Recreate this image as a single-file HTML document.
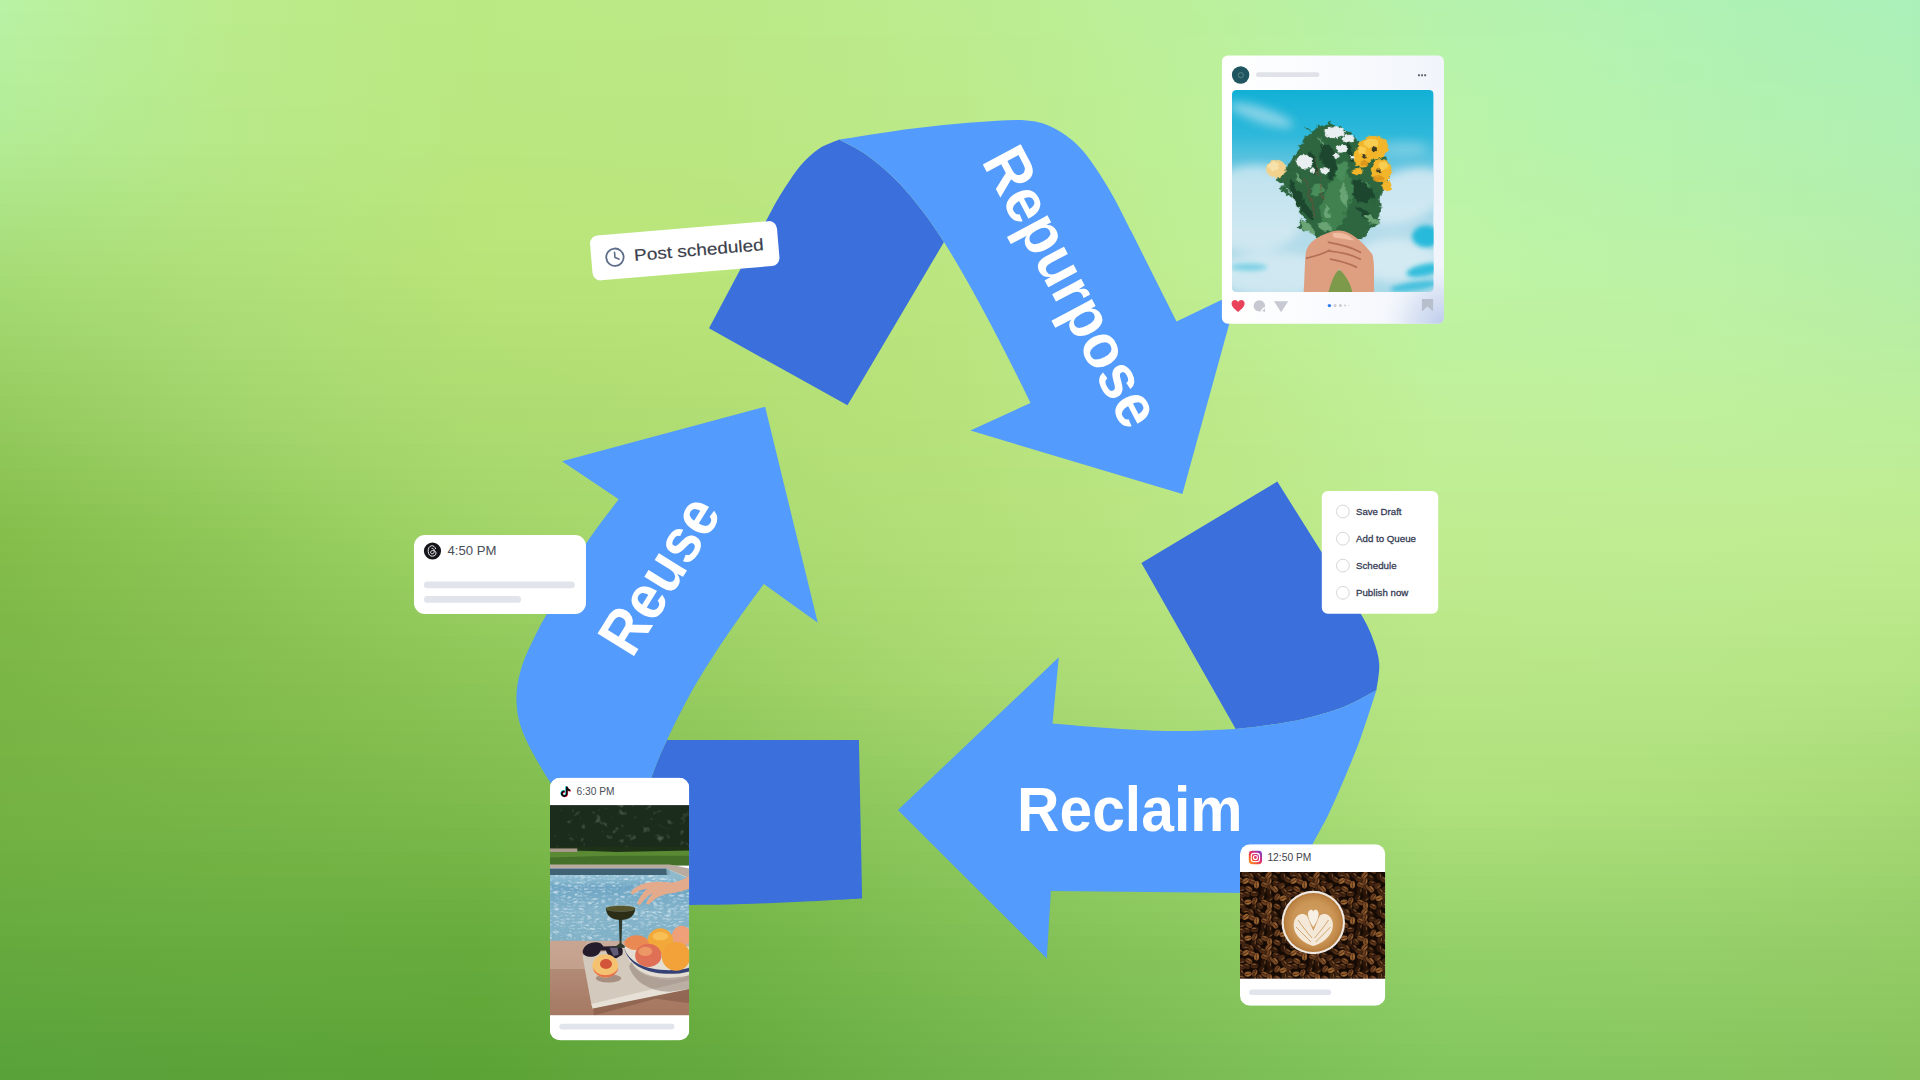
<!DOCTYPE html>
<html><head><meta charset="utf-8"><title>Reuse, Repurpose, Reclaim</title>
<style>
html,body{margin:0;padding:0;width:1920px;height:1080px;overflow:hidden;background:#a8db74;font-family:"Liberation Sans",sans-serif;}
#bg{position:absolute;left:0;top:0;width:1920px;height:1080px;overflow:hidden}
#bg i{position:absolute;left:0;width:1920px;height:12px;display:block}
svg{position:absolute;left:0;top:0;}
text{font-family:"Liberation Sans",sans-serif;}
</style></head>
<body>
<div id="bg"><i style="top:0px;background:linear-gradient(90deg,#b9f2a4 0.00%,#bbeb8b 12.50%,#bae882 25.00%,#bbe987 37.50%,#bcec90 50.00%,#bbf09c 62.50%,#b6f2ac 75.00%,#b0f2b4 87.50%,#aaf0b8 100.00%)"></i><i style="top:12px;background:linear-gradient(90deg,#b8f1a3 0.00%,#bbeb8b 12.50%,#bae882 25.00%,#bbe986 37.50%,#bcec8f 50.00%,#bbf09b 62.50%,#b7f2ab 75.00%,#b1f2b3 87.50%,#abf0b7 100.00%)"></i><i style="top:24px;background:linear-gradient(90deg,#b8f1a2 0.00%,#baeb8a 12.50%,#bae881 25.00%,#bbe986 37.50%,#bcec8f 50.00%,#bbf09b 62.50%,#b7f2ab 75.00%,#b1f2b3 87.50%,#abf0b7 100.00%)"></i><i style="top:36px;background:linear-gradient(90deg,#b7f0a0 0.00%,#baea8a 12.50%,#bae881 25.00%,#bbe885 37.50%,#bceb8e 50.00%,#bcf09b 62.50%,#b8f3ab 75.00%,#b1f2b2 87.50%,#acf0b6 100.00%)"></i><i style="top:48px;background:linear-gradient(90deg,#b7f09f 0.00%,#baea8a 12.50%,#bae881 25.00%,#bbe885 37.50%,#bceb8e 50.00%,#bcf09a 62.50%,#b8f3aa 75.00%,#b2f2b2 87.50%,#acf0b6 100.00%)"></i><i style="top:60px;background:linear-gradient(90deg,#b6ef9e 0.00%,#baea8a 12.50%,#bae881 25.00%,#bbe885 37.50%,#bceb8d 50.00%,#bcf09a 62.50%,#b8f3aa 75.00%,#b2f2b1 87.50%,#adf0b5 100.00%)"></i><i style="top:72px;background:linear-gradient(90deg,#b6ef9c 0.00%,#b9ea89 12.50%,#bae780 25.00%,#bbe884 37.50%,#bceb8d 50.00%,#bcf09a 62.50%,#b9f3aa 75.00%,#b2f2b1 87.50%,#adf0b5 100.00%)"></i><i style="top:84px;background:linear-gradient(90deg,#b5ee9b 0.00%,#b9ea89 12.50%,#bae780 25.00%,#bbe884 37.50%,#bceb8c 50.00%,#bcf099 62.50%,#b9f3a9 75.00%,#b3f2b0 87.50%,#aef0b4 100.00%)"></i><i style="top:96px;background:linear-gradient(90deg,#b4ed9a 0.00%,#b9e989 12.50%,#bae780 25.00%,#bbe783 37.50%,#bcea8b 50.00%,#bdf099 62.50%,#baf4a9 75.00%,#b3f2af 87.50%,#aff0b3 100.00%)"></i><i style="top:108px;background:linear-gradient(90deg,#b4ed98 0.00%,#b8e988 12.50%,#bae77f 25.00%,#bbe783 37.50%,#bcea8b 50.00%,#bdf099 62.50%,#baf4a9 75.00%,#b3f2af 87.50%,#aff0b3 100.00%)"></i><i style="top:120px;background:linear-gradient(90deg,#b3ec97 0.00%,#b8e988 12.50%,#bae77f 25.00%,#bbe782 37.50%,#bcea8a 50.00%,#bdf098 62.50%,#bbf4a8 75.00%,#b4f2ae 87.50%,#b0f0b2 100.00%)"></i><i style="top:132px;background:linear-gradient(90deg,#b3ec95 0.00%,#b8e988 12.50%,#bae77f 25.00%,#bbe782 37.50%,#bcea8a 50.00%,#bdf098 62.50%,#bbf4a8 75.00%,#b4f2ae 87.50%,#b0f0b2 100.00%)"></i><i style="top:144px;background:linear-gradient(90deg,#b2ea92 0.00%,#b7e886 12.50%,#bae77e 25.00%,#bbe781 37.50%,#bcea89 50.00%,#bdf097 62.50%,#bbf4a8 75.00%,#b5f2ad 87.50%,#b1f0b1 100.00%)"></i><i style="top:156px;background:linear-gradient(90deg,#b1e990 0.00%,#b6e785 12.50%,#bae67e 25.00%,#bbe781 37.50%,#bce988 50.00%,#bdf097 62.50%,#bcf4a7 75.00%,#b6f2ac 87.50%,#b1f0b0 100.00%)"></i><i style="top:168px;background:linear-gradient(90deg,#b0e78d 0.00%,#b6e684 12.50%,#bae67d 25.00%,#bbe680 37.50%,#bce987 50.00%,#beef96 62.50%,#bcf4a7 75.00%,#b6f2ac 87.50%,#b2efaf 100.00%)"></i><i style="top:180px;background:linear-gradient(90deg,#aee68a 0.00%,#b5e683 12.50%,#bae67c 25.00%,#bbe67f 37.50%,#bce886 50.00%,#beef96 62.50%,#bcf4a6 75.00%,#b7f2ab 87.50%,#b2efae 100.00%)"></i><i style="top:192px;background:linear-gradient(90deg,#ade587 0.00%,#b4e581 12.50%,#bae67c 25.00%,#bbe67f 37.50%,#bce885 50.00%,#beef95 62.50%,#bcf4a6 75.00%,#b8f2aa 87.50%,#b3efad 100.00%)"></i><i style="top:204px;background:linear-gradient(90deg,#ace384 0.00%,#b4e480 12.50%,#b9e57b 25.00%,#bae67e 37.50%,#bbe884 50.00%,#beef95 62.50%,#bdf4a6 75.00%,#b8f2aa 87.50%,#b3efac 100.00%)"></i><i style="top:216px;background:linear-gradient(90deg,#abe281 0.00%,#b3e37f 12.50%,#b9e57a 25.00%,#bae67d 37.50%,#bbe784 50.00%,#beef94 62.50%,#bdf4a5 75.00%,#b9f2a9 87.50%,#b4efac 100.00%)"></i><i style="top:228px;background:linear-gradient(90deg,#aae07f 0.00%,#b2e27e 12.50%,#b9e57a 25.00%,#bae67d 37.50%,#bbe783 50.00%,#beef94 62.50%,#bdf4a5 75.00%,#baf2a8 87.50%,#b4efab 100.00%)"></i><i style="top:240px;background:linear-gradient(90deg,#a9df7c 0.00%,#b1e27c 12.50%,#b9e579 25.00%,#bae57c 37.50%,#bbe782 50.00%,#bfee93 62.50%,#bdf4a5 75.00%,#bbf2a7 87.50%,#b5eeaa 100.00%)"></i><i style="top:252px;background:linear-gradient(90deg,#a8dd79 0.00%,#b1e17b 12.50%,#b9e479 25.00%,#bae57c 37.50%,#bbe681 50.00%,#bfee93 62.50%,#bef4a4 75.00%,#bbf2a7 87.50%,#b5eea9 100.00%)"></i><i style="top:264px;background:linear-gradient(90deg,#a7dc76 0.00%,#b0e07a 12.50%,#b9e478 25.00%,#bae57b 37.50%,#bbe680 50.00%,#bfee92 62.50%,#bef4a4 75.00%,#bcf2a6 87.50%,#b6eea8 100.00%)"></i><i style="top:276px;background:linear-gradient(90deg,#a5db74 0.00%,#afdf79 12.50%,#b8e377 25.00%,#b9e47a 37.50%,#bbe680 50.00%,#bfed91 62.50%,#bef4a3 75.00%,#bcf2a5 87.50%,#b7eea7 100.00%)"></i><i style="top:288px;background:linear-gradient(90deg,#a4d972 0.00%,#aede78 12.50%,#b7e377 25.00%,#b9e47a 37.50%,#bae57f 50.00%,#bfed90 62.50%,#bef3a2 75.00%,#bdf2a4 87.50%,#b7eea6 100.00%)"></i><i style="top:300px;background:linear-gradient(90deg,#a2d870 0.00%,#addd77 12.50%,#b6e276 25.00%,#b8e379 37.50%,#bae57f 50.00%,#beec8f 62.50%,#bff3a1 75.00%,#bdf1a3 87.50%,#b8eea5 100.00%)"></i><i style="top:312px;background:linear-gradient(90deg,#a1d66e 0.00%,#acdc76 12.50%,#b5e176 25.00%,#b7e379 37.50%,#bae57f 50.00%,#beec8e 62.50%,#bff3a0 75.00%,#bdf1a2 87.50%,#b8eea4 100.00%)"></i><i style="top:324px;background:linear-gradient(90deg,#9fd56c 0.00%,#abdc75 12.50%,#b4e075 25.00%,#b6e278 37.50%,#bae57e 50.00%,#beeb8e 62.50%,#bff2a0 75.00%,#bdf1a2 87.50%,#b9eea3 100.00%)"></i><i style="top:336px;background:linear-gradient(90deg,#9ed36a 0.00%,#aadb74 12.50%,#b3e075 25.00%,#b6e177 37.50%,#b9e47e 50.00%,#beeb8d 62.50%,#bff29f 75.00%,#bef1a1 87.50%,#b9eea2 100.00%)"></i><i style="top:348px;background:linear-gradient(90deg,#9cd268 0.00%,#a9da73 12.50%,#b2df74 25.00%,#b5e177 37.50%,#b9e47e 50.00%,#beea8c 62.50%,#bff29e 75.00%,#bef1a0 87.50%,#baeea1 100.00%)"></i><i style="top:360px;background:linear-gradient(90deg,#9bd166 0.00%,#a7d971 12.50%,#b1de74 25.00%,#b4e076 37.50%,#b9e47d 50.00%,#beea8b 62.50%,#bff19d 75.00%,#bef19f 87.50%,#baee9f 100.00%)"></i><i style="top:372px;background:linear-gradient(90deg,#99cf64 0.00%,#a6d870 12.50%,#b0de73 25.00%,#b4df75 37.50%,#b9e47d 50.00%,#bde98a 62.50%,#c0f19c 75.00%,#bef09e 87.50%,#bbee9e 100.00%)"></i><i style="top:384px;background:linear-gradient(90deg,#98ce62 0.00%,#a5d76f 12.50%,#afdd73 25.00%,#b3df75 37.50%,#b8e37c 50.00%,#bde989 62.50%,#c0f09b 75.00%,#bff09d 87.50%,#bbee9d 100.00%)"></i><i style="top:396px;background:linear-gradient(90deg,#96cc60 0.00%,#a4d66e 12.50%,#aedc72 25.00%,#b2de74 37.50%,#b8e37c 50.00%,#bde888 62.50%,#c0f09a 75.00%,#bff09c 87.50%,#bcee9c 100.00%)"></i><i style="top:408px;background:linear-gradient(90deg,#95cb5f 0.00%,#a3d56d 12.50%,#addb71 25.00%,#b1de74 37.50%,#b8e37c 50.00%,#bde888 62.50%,#c0f099 75.00%,#bff09b 87.50%,#bcee9b 100.00%)"></i><i style="top:420px;background:linear-gradient(90deg,#93ca5d 0.00%,#a1d46b 12.50%,#acdb70 25.00%,#b1de73 37.50%,#b7e27b 50.00%,#bde887 62.50%,#c0ef98 75.00%,#bfef9a 87.50%,#bcee9a 100.00%)"></i><i style="top:432px;background:linear-gradient(90deg,#92c85b 0.00%,#9fd369 12.50%,#abda70 25.00%,#b0dd73 37.50%,#b7e27b 50.00%,#bce887 62.50%,#c0ef98 75.00%,#bfef9a 87.50%,#bdee99 100.00%)"></i><i style="top:444px;background:linear-gradient(90deg,#90c759 0.00%,#9dd167 12.50%,#a9d96f 25.00%,#afdd73 37.50%,#b6e27b 50.00%,#bce787 62.50%,#c0ef97 75.00%,#bfef99 87.50%,#bded98 100.00%)"></i><i style="top:456px;background:linear-gradient(90deg,#8ec657 0.00%,#9cd065 12.50%,#a8d96e 25.00%,#afdd72 37.50%,#b6e17a 50.00%,#bce786 62.50%,#c0ee96 75.00%,#bfee98 87.50%,#bded97 100.00%)"></i><i style="top:468px;background:linear-gradient(90deg,#8dc455 0.00%,#9acf63 12.50%,#a7d86d 25.00%,#aedc72 37.50%,#b5e17a 50.00%,#bbe786 62.50%,#c0ee95 75.00%,#c0ee97 87.50%,#beed96 100.00%)"></i><i style="top:480px;background:linear-gradient(90deg,#8bc353 0.00%,#98ce61 12.50%,#a6d76c 25.00%,#addc72 37.50%,#b5e17a 50.00%,#bbe786 62.50%,#c0ee94 75.00%,#c0ee96 87.50%,#beed95 100.00%)"></i><i style="top:492px;background:linear-gradient(90deg,#8ac251 0.00%,#96cc5f 12.50%,#a4d66b 25.00%,#acdc71 37.50%,#b5e079 50.00%,#bbe785 62.50%,#c0ed93 75.00%,#c0ed95 87.50%,#beed94 100.00%)"></i><i style="top:504px;background:linear-gradient(90deg,#88c04f 0.00%,#94cb5d 12.50%,#a3d66a 25.00%,#acdc71 37.50%,#b4e079 50.00%,#bbe685 62.50%,#c0ed92 75.00%,#c0ed94 87.50%,#beec93 100.00%)"></i><i style="top:516px;background:linear-gradient(90deg,#86bf4d 0.00%,#93ca5b 12.50%,#a2d569 25.00%,#abdb71 37.50%,#b4e079 50.00%,#bae685 62.50%,#c0ed91 75.00%,#c0ed93 87.50%,#bfec92 100.00%)"></i><i style="top:528px;background:linear-gradient(90deg,#85be4b 0.00%,#91c959 12.50%,#a1d468 25.00%,#aadb70 37.50%,#b3df78 50.00%,#bae684 62.50%,#c0ec90 75.00%,#c0ec92 87.50%,#bfec91 100.00%)"></i><i style="top:540px;background:linear-gradient(90deg,#84bd4a 0.00%,#8fc858 12.50%,#9fd367 25.00%,#a9da6f 37.50%,#b3df78 50.00%,#bae684 62.50%,#c0ec90 75.00%,#c0ec92 87.50%,#bfec8f 100.00%)"></i><i style="top:552px;background:linear-gradient(90deg,#83bc49 0.00%,#8ec757 12.50%,#9ed266 25.00%,#a8d96e 37.50%,#b2de77 50.00%,#b9e583 62.50%,#bfeb8f 75.00%,#bfeb91 87.50%,#beeb8e 100.00%)"></i><i style="top:564px;background:linear-gradient(90deg,#82bb49 0.00%,#8dc656 12.50%,#9cd164 25.00%,#a6d86d 37.50%,#b1dd76 50.00%,#b8e482 62.50%,#beeb8e 75.00%,#beeb90 87.50%,#bdea8d 100.00%)"></i><i style="top:576px;background:linear-gradient(90deg,#81bb49 0.00%,#8cc555 12.50%,#9ad063 25.00%,#a5d76c 37.50%,#b0dd76 50.00%,#b7e481 62.50%,#beea8d 75.00%,#bdea8f 87.50%,#bcea8c 100.00%)"></i><i style="top:588px;background:linear-gradient(90deg,#80ba48 0.00%,#8bc454 12.50%,#99ce62 25.00%,#a4d66a 37.50%,#afdc75 50.00%,#b6e380 62.50%,#bdea8c 75.00%,#bcea8e 87.50%,#bbe98b 100.00%)"></i><i style="top:600px;background:linear-gradient(90deg,#7fba48 0.00%,#8ac353 12.50%,#97cd60 25.00%,#a2d569 37.50%,#aedc74 50.00%,#b5e37f 62.50%,#bce98b 75.00%,#bce98d 87.50%,#bae88a 100.00%)"></i><i style="top:612px;background:linear-gradient(90deg,#7eb948 0.00%,#89c252 12.50%,#96cc5f 25.00%,#a1d368 37.50%,#addb73 50.00%,#b4e27e 62.50%,#bbe98a 75.00%,#bbe98c 87.50%,#b9e789 100.00%)"></i><i style="top:624px;background:linear-gradient(90deg,#7db847 0.00%,#88c151 12.50%,#94cb5d 25.00%,#9fd267 37.50%,#acda73 50.00%,#b3e17d 62.50%,#bbe889 75.00%,#bae88b 87.50%,#b8e788 100.00%)"></i><i style="top:636px;background:linear-gradient(90deg,#7cb847 0.00%,#87c050 12.50%,#92c95c 25.00%,#9ed165 37.50%,#abda72 50.00%,#b2e17c 62.50%,#bae788 75.00%,#b9e78a 87.50%,#b7e687 100.00%)"></i><i style="top:648px;background:linear-gradient(90deg,#7cb747 0.00%,#86c050 12.50%,#91c85a 25.00%,#9cd064 37.50%,#aad971 50.00%,#b2e07c 62.50%,#b9e788 75.00%,#b8e789 87.50%,#b6e586 100.00%)"></i><i style="top:660px;background:linear-gradient(90deg,#7bb646 0.00%,#85bf4f 12.50%,#8fc759 25.00%,#9bcf63 37.50%,#a9d871 50.00%,#b1df7b 62.50%,#b9e687 75.00%,#b8e688 87.50%,#b5e585 100.00%)"></i><i style="top:672px;background:linear-gradient(90deg,#7ab646 0.00%,#84be4e 12.50%,#8ec658 25.00%,#9ace62 37.50%,#a8d870 50.00%,#b0df7a 62.50%,#b8e686 75.00%,#b7e687 87.50%,#b4e484 100.00%)"></i><i style="top:684px;background:linear-gradient(90deg,#79b646 0.00%,#83bd4d 12.50%,#8cc557 25.00%,#98cd60 37.50%,#a6d76e 50.00%,#aede79 62.50%,#b7e585 75.00%,#b6e586 87.50%,#b2e382 100.00%)"></i><i style="top:696px;background:linear-gradient(90deg,#79b545 0.00%,#82bc4d 12.50%,#8bc456 25.00%,#96cc5f 37.50%,#a4d56d 50.00%,#addd78 62.50%,#b6e584 75.00%,#b5e484 87.50%,#b1e281 100.00%)"></i><i style="top:708px;background:linear-gradient(90deg,#78b545 0.00%,#81bc4c 12.50%,#89c355 25.00%,#94cb5e 37.50%,#a2d46b 50.00%,#abdc77 62.50%,#b5e483 75.00%,#b4e483 87.50%,#b0e17f 100.00%)"></i><i style="top:720px;background:linear-gradient(90deg,#78b445 0.00%,#7fbb4b 12.50%,#88c153 25.00%,#92c95d 37.50%,#a0d36a 50.00%,#aadc75 62.50%,#b4e482 75.00%,#b3e382 87.50%,#afdf7e 100.00%)"></i><i style="top:732px;background:linear-gradient(90deg,#77b445 0.00%,#7eba4b 12.50%,#86c052 25.00%,#91c85b 37.50%,#9ed269 50.00%,#a9db74 62.50%,#b3e381 75.00%,#b2e281 87.50%,#adde7d 100.00%)"></i><i style="top:744px;background:linear-gradient(90deg,#77b444 0.00%,#7dba4a 12.50%,#85bf51 25.00%,#8fc75a 37.50%,#9cd167 50.00%,#a7da73 62.50%,#b2e380 75.00%,#b1e280 87.50%,#acdd7b 100.00%)"></i><i style="top:756px;background:linear-gradient(90deg,#76b344 0.00%,#7cb949 12.50%,#83be50 25.00%,#8dc659 37.50%,#9ad066 50.00%,#a6d972 62.50%,#b2e280 75.00%,#b0e17f 87.50%,#abdc7a 100.00%)"></i><i style="top:768px;background:linear-gradient(90deg,#76b344 0.00%,#7bb849 12.50%,#82bd4f 25.00%,#8bc558 37.50%,#98ce64 50.00%,#a4d871 62.50%,#b1e27f 75.00%,#afe07d 87.50%,#aadb78 100.00%)"></i><i style="top:780px;background:linear-gradient(90deg,#75b344 0.00%,#7ab748 12.50%,#80bc4e 25.00%,#8ac456 37.50%,#96cd63 50.00%,#a3d870 62.50%,#b0e17e 75.00%,#aedf7c 87.50%,#a8da77 100.00%)"></i><i style="top:792px;background:linear-gradient(90deg,#75b243 0.00%,#79b748 12.50%,#7fbb4d 25.00%,#88c355 37.50%,#94cc61 50.00%,#a1d76f 62.50%,#afe17d 75.00%,#addf7b 87.50%,#a7d975 100.00%)"></i><i style="top:804px;background:linear-gradient(90deg,#74b243 0.00%,#78b647 12.50%,#7dba4c 25.00%,#86c254 37.50%,#92cb60 50.00%,#a0d66e 62.50%,#aee07c 75.00%,#acde7a 87.50%,#a6d874 100.00%)"></i><i style="top:816px;background:linear-gradient(90deg,#73b143 0.00%,#77b546 12.50%,#7bb94b 25.00%,#84c153 37.50%,#90ca5f 50.00%,#9ed56c 62.50%,#acdf7a 75.00%,#aadd79 87.50%,#a4d773 100.00%)"></i><i style="top:828px;background:linear-gradient(90deg,#72b142 0.00%,#75b446 12.50%,#79b749 25.00%,#82c052 37.50%,#8fc95e 50.00%,#9cd36b 62.50%,#a9dd78 75.00%,#a8dc77 87.50%,#a3d672 100.00%)"></i><i style="top:840px;background:linear-gradient(90deg,#70b042 0.00%,#74b345 12.50%,#77b648 25.00%,#81be50 37.50%,#8dc85c 50.00%,#9ad269 62.50%,#a7dc77 75.00%,#a6da76 87.50%,#a1d570 100.00%)"></i><i style="top:852px;background:linear-gradient(90deg,#6faf41 0.00%,#72b244 12.50%,#75b546 25.00%,#7fbd4f 37.50%,#8bc65b 50.00%,#97d068 62.50%,#a5da75 75.00%,#a4d974 87.50%,#a0d46f 100.00%)"></i><i style="top:864px;background:linear-gradient(90deg,#6eae41 0.00%,#71b243 12.50%,#73b345 25.00%,#7dbc4e 37.50%,#8ac55a 50.00%,#95cf66 62.50%,#a2d973 75.00%,#a2d873 87.50%,#9ed36e 100.00%)"></i><i style="top:876px;background:linear-gradient(90deg,#6dae40 0.00%,#6fb143 12.50%,#71b243 25.00%,#7bbb4d 37.50%,#88c459 50.00%,#93cd64 62.50%,#a0d771 75.00%,#a0d771 87.50%,#9cd26d 100.00%)"></i><i style="top:888px;background:linear-gradient(90deg,#6bad40 0.00%,#6eb042 12.50%,#6fb142 25.00%,#7ab94b 37.50%,#86c357 50.00%,#91cc63 62.50%,#9ed670 75.00%,#9ed570 87.50%,#9bd16b 100.00%)"></i><i style="top:900px;background:linear-gradient(90deg,#6aac3f 0.00%,#6daf41 12.50%,#6daf41 25.00%,#78b84a 37.50%,#84c256 50.00%,#8fcb61 62.50%,#9cd56e 75.00%,#9cd46f 87.50%,#99cf6a 100.00%)"></i><i style="top:912px;background:linear-gradient(90deg,#69ac3f 0.00%,#6bae41 12.50%,#6bae3f 25.00%,#76b749 37.50%,#83c155 50.00%,#8dc960 62.50%,#99d36c 75.00%,#9ad36d 87.50%,#98ce69 100.00%)"></i><i style="top:924px;background:linear-gradient(90deg,#68ab3f 0.00%,#6aad40 12.50%,#69ad3e 25.00%,#74b648 37.50%,#81bf54 50.00%,#8bc85e 62.50%,#97d26a 75.00%,#98d26c 87.50%,#96cd68 100.00%)"></i><i style="top:936px;background:linear-gradient(90deg,#66aa3e 0.00%,#68ac3f 12.50%,#67ab3c 25.00%,#72b446 37.50%,#7fbe52 50.00%,#89c65c 62.50%,#95d068 75.00%,#96d06a 87.50%,#94cc66 100.00%)"></i><i style="top:948px;background:linear-gradient(90deg,#65a93e 0.00%,#67ab3f 12.50%,#66aa3c 25.00%,#71b345 37.50%,#7ebd51 50.00%,#87c55b 62.50%,#93cf67 75.00%,#95cf69 87.50%,#93cb65 100.00%)"></i><i style="top:960px;background:linear-gradient(90deg,#64a93d 0.00%,#66aa3e 12.50%,#65aa3b 25.00%,#70b245 37.50%,#7dbc51 50.00%,#86c45b 62.50%,#91ce66 75.00%,#93ce68 87.50%,#92ca64 100.00%)"></i><i style="top:972px;background:linear-gradient(90deg,#63a83d 0.00%,#65aa3d 12.50%,#64a93b 25.00%,#6eb144 37.50%,#7bbb50 50.00%,#85c45a 62.50%,#90ce66 75.00%,#92cd67 87.50%,#91ca63 100.00%)"></i><i style="top:984px;background:linear-gradient(90deg,#61a73d 0.00%,#63a93d 12.50%,#63a83a 25.00%,#6db043 37.50%,#7aba4f 50.00%,#83c359 62.50%,#8ecd65 75.00%,#90cc65 87.50%,#8fc962 100.00%)"></i><i style="top:996px;background:linear-gradient(90deg,#60a73c 0.00%,#62a83c 12.50%,#62a839 25.00%,#6caf43 37.50%,#78b94f 50.00%,#82c259 62.50%,#8ccc64 75.00%,#8fcb64 87.50%,#8ec861 100.00%)"></i><i style="top:1008px;background:linear-gradient(90deg,#5fa63c 0.00%,#61a73b 12.50%,#61a739 25.00%,#6aae42 37.50%,#77b84e 50.00%,#81c158 62.50%,#8bcb63 75.00%,#8dca63 87.50%,#8dc760 100.00%)"></i><i style="top:1020px;background:linear-gradient(90deg,#5ea53c 0.00%,#60a63b 12.50%,#60a638 25.00%,#69ad41 37.50%,#75b74d 50.00%,#80c057 62.50%,#89ca62 75.00%,#8cc962 87.50%,#8cc65f 100.00%)"></i><i style="top:1032px;background:linear-gradient(90deg,#5ca43b 0.00%,#5ea53a 12.50%,#5fa538 25.00%,#68ac40 37.50%,#74b64c 50.00%,#7ebf56 62.50%,#88c961 75.00%,#8ac860 87.50%,#8ac55e 100.00%)"></i><i style="top:1044px;background:linear-gradient(90deg,#5ba43b 0.00%,#5da43a 12.50%,#5ea537 25.00%,#66ab40 37.50%,#73b54c 50.00%,#7dbe56 62.50%,#86c860 75.00%,#89c75f 87.50%,#89c45d 100.00%)"></i><i style="top:1056px;background:linear-gradient(90deg,#5aa33b 0.00%,#5ca339 12.50%,#5da437 25.00%,#65aa3f 37.50%,#71b44b 50.00%,#7cbd55 62.50%,#84c75f 75.00%,#87c65e 87.50%,#88c35c 100.00%)"></i><i style="top:1068px;background:linear-gradient(90deg,#59a23a 0.00%,#5ba238 12.50%,#5ca336 25.00%,#64a93e 37.50%,#70b34a 50.00%,#7bbc54 62.50%,#83c65e 75.00%,#86c55d 87.50%,#87c25b 100.00%)"></i></div>
<svg width="1920" height="1080" viewBox="0 0 1920 1080">
<!-- ARROWS -->
<g id="arrows">
<path fill="#3a6fdc" d="M839.3,139.6 C835.8,141.2 825.0,144.6 818.6,148.9 C812.2,153.2 806.2,159.0 800.8,165.2 C795.4,171.4 790.3,179.5 786.0,186.0 C781.7,192.5 776.8,201.0 775.0,204.0 L709,328.3 L847.5,405.3 L944,242 C940.7,237.2 931.7,223.0 924.0,213.0 C916.3,203.0 907.3,191.5 898.0,182.0 C888.7,172.5 877.8,163.1 868.0,156.0 C858.2,148.9 844.1,142.3 839.3,139.6 Z"/>
<path fill="#539bfc" d="M839.3,139.6 C850.9,137.8 886.2,131.8 908.9,128.9 C931.6,126.0 956.0,123.6 975.6,122.2 C995.2,120.8 1013.4,119.3 1026.7,120.4 C1040.0,121.5 1046.3,124.0 1055.6,128.9 C1064.8,133.8 1073.3,140.0 1082.2,150.0 C1091.1,160.0 1100.8,175.4 1108.9,188.9 C1117.1,202.4 1127.4,224.1 1131.1,231.1 L1176.5,321.5 L1238,292 L1182.4,493.9 L970.4,430.6 L1030.5,402.9 Q979.5,298.5 944,242 C940.7,237.2 931.7,223.0 924.0,213.0 C916.3,203.0 907.3,191.5 898.0,182.0 C888.7,172.5 877.8,163.1 868.0,156.0 C858.2,148.9 844.1,142.3 839.3,139.6 Z"/>
<path fill="#3a6fdc" d="M1277.3,481.6 L1141.4,563.1 L1235.7,729 C1240.2,728.5 1251.7,727.5 1263.0,725.8 C1274.3,724.1 1290.2,722.1 1303.8,718.9 C1317.4,715.7 1332.5,711.4 1344.6,706.6 C1356.7,701.8 1371.1,693.0 1376.4,690.3 C1376.9,685.9 1379.8,672.3 1379.2,663.8 C1378.7,655.3 1376.1,647.7 1373.1,639.4 C1370.0,631.1 1368.1,626.4 1360.9,614.1 C1353.7,601.8 1335.2,573.6 1330.0,565.5 Z"/>
<path fill="#539bfc" d="M897.9,810 L1058.8,657.3 L1052.5,723.4 C1060.4,724.1 1085.3,726.3 1100.0,727.4 C1114.7,728.5 1127.2,729.3 1140.8,729.9 C1154.4,730.5 1165.7,731.2 1181.5,731.1 C1197.3,731.0 1226.7,729.4 1235.7,729.0 C1240.2,728.5 1251.7,727.5 1263.0,725.8 C1274.3,724.1 1290.2,722.1 1303.8,718.9 C1317.4,715.7 1332.5,711.4 1344.6,706.6 C1356.7,701.8 1371.1,693.0 1376.4,690.3 C1373.8,698.1 1366.2,722.6 1360.9,737.2 C1355.6,751.8 1350.0,765.1 1344.6,778.0 C1339.2,790.9 1333.7,803.5 1328.3,814.7 C1322.9,825.9 1318.7,832.1 1312.0,845.2 C1305.3,858.3 1292.0,885.5 1288.0,893.5 L1050.9,890.9 L1046.8,958.5 Z"/>
<path fill="#3a6fdc" d="M667.1,740 L858.9,740 L862.1,898.5 C852.6,899.0 824.9,900.6 805.0,901.5 C785.1,902.4 761.7,903.5 742.5,904.1 C723.3,904.7 707.0,904.9 689.9,905.1 C672.8,905.3 648.3,905.4 640.0,905.5 L600,905 L640,812 C642.0,805.9 648.9,785.0 652.2,775.6 C655.5,766.2 657.5,761.5 660.0,755.6 C662.5,749.7 665.9,742.6 667.1,740.0 Z"/>
<path fill="#539bfc" d="M765.1,406.8 L817.8,622.7 L763.8,584 C759.8,589.5 747.7,605.9 740.0,616.7 C732.3,627.5 725.2,637.6 717.8,648.9 C710.4,660.2 702.3,672.9 695.6,684.4 C688.9,695.9 682.5,708.5 677.8,717.8 C673.0,727.1 670.1,733.7 667.1,740.0 C664.1,746.3 662.5,749.7 660.0,755.6 C657.5,761.5 655.5,766.2 652.2,775.6 C648.9,785.0 642.0,805.9 640.0,812.0 L578,818 C573.4,812.1 559.4,796.4 550.4,782.6 C541.4,768.8 529.6,748.4 524.0,735.0 C518.4,721.6 517.0,712.9 516.5,702.0 C516.0,691.1 517.5,681.2 520.8,669.9 C524.0,658.6 529.4,647.3 536.0,634.0 C542.6,620.7 552.2,605.0 560.5,590.0 C568.8,575.0 576.3,558.9 586.0,543.8 C595.7,528.7 613.2,506.7 618.7,499.3 L562,461.2 Z"/>
</g>
<!-- ARROW LABELS -->
<g fill="#ffffff" font-weight="bold" font-size="62.3">
 <text transform="translate(981.1,160.9) rotate(62)" textLength="307.5" lengthAdjust="spacingAndGlyphs">Repurpose</text>
 <text transform="translate(632,659.3) rotate(-58.2)" textLength="172" lengthAdjust="spacingAndGlyphs">Reuse</text>
 <text x="1017" y="830.9" textLength="225.5" lengthAdjust="spacingAndGlyphs">Reclaim</text>
</g>
<!-- POST SCHEDULED PILL -->
<g transform="translate(684.7,250.15) rotate(-4.8)">
 <rect x="-93.8" y="-21.9" width="187.6" height="45" rx="8" fill="#ffffff"/>
 <circle cx="-70.1" cy="1.2" r="8.7" fill="none" stroke="#5d6d88" stroke-width="1.8"/>
 <path d="M-70.1,-3.8 V1.5 L-66.3,3.4" fill="none" stroke="#5d6d88" stroke-width="1.6" stroke-linecap="round" stroke-linejoin="round"/>
 <text x="-50.9" y="6.6" font-size="16.6" fill="#3b404b" stroke="#3b404b" stroke-width="0.18" textLength="130" lengthAdjust="spacingAndGlyphs">Post scheduled</text>
</g>
<!-- THREADS CARD -->
<g>
 <rect x="414" y="535" width="172" height="79" rx="11" fill="#ffffff"/>
 <circle cx="432.5" cy="551" r="8.6" fill="#15151b"/>
 <path d="M435.6,548.6 C434.8,546.4 433.2,545.6 431.6,545.8 C429.2,546.2 428,548.6 428.2,551.4 C428.4,554.4 430,556.4 432.6,556.2 C434.8,556 436.2,554.6 436,552.8 C435.8,551 434,550.4 432.4,550.6 C431,550.8 430.4,551.8 430.6,552.6 C430.8,553.6 432,554 433,553.6 C434.2,553.2 434.4,551.8 434.2,550.4 C434,549 433.2,548.4 432,548.4" fill="none" stroke="#ffffff" stroke-width="0.9" stroke-linecap="round"/>
 <text x="447.5" y="555.4" font-size="12.8" fill="#4a4e58" textLength="49" lengthAdjust="spacingAndGlyphs">4:50 PM</text>
 <rect x="424" y="581.6" width="150.8" height="6.6" rx="3.3" fill="#e1e4ea"/>
 <rect x="424" y="596" width="97" height="6.8" rx="3.4" fill="#e1e4ea"/>
</g>
<!-- TIKTOK CARD (pool) -->
<defs>
 <clipPath id="ttclip"><rect x="550" y="777.7" width="139.2" height="262.6" rx="10"/></clipPath>
 <clipPath id="ttphoto"><rect x="43" y="40" width="602" height="913"/></clipPath>
 <linearGradient id="water" x1="0" y1="0" x2="0" y2="1"><stop offset="0" stop-color="#a9ccd9"/><stop offset="0.12" stop-color="#8dbdd2"/><stop offset="0.25" stop-color="#6fa6c4"/><stop offset="0.6" stop-color="#86b5cb"/><stop offset="1" stop-color="#7fb0c6"/></linearGradient>
 <linearGradient id="deck" x1="0" y1="0" x2="0" y2="1"><stop offset="0" stop-color="#c9ad9c"/><stop offset="0.4" stop-color="#bb9986"/><stop offset="1" stop-color="#a87d68"/></linearGradient>
 <filter id="ripple" x="0" y="0" width="100%" height="100%"><feTurbulence type="turbulence" baseFrequency="0.035 0.07" numOctaves="2" seed="4" result="t"/><feColorMatrix in="t" type="matrix" values="0 0 0 0 0.9  0 0 0 0 0.96  0 0 0 0 1  1.6 1.6 0 0 -0.75"/></filter>
 <filter id="leafn" x="0" y="0" width="100%" height="100%"><feTurbulence type="fractalNoise" baseFrequency="0.03" numOctaves="2" seed="7" result="t"/><feColorMatrix in="t" type="matrix" values="0 0 0 0 0.55  0 0 0 0 0.66  0 0 0 0 0.5  2.4 0 0 0 -1.45"/></filter>
</defs>
<g clip-path="url(#ttclip)">
 <rect x="550" y="777.7" width="139.2" height="262.6" fill="#ffffff"/>
 <g transform="translate(540,795) scale(0.23148)" clip-path="url(#ttphoto)">
  <!-- trees -->
  <rect x="43" y="40" width="602" height="205" fill="#1b2c1d"/>
  <rect x="43" y="45" width="602" height="190" filter="url(#leafn)" opacity="0.5"/>
  <!-- grass -->
  <rect x="43" y="225" width="602" height="80" fill="#44702a"/>
  <path d="M43,245 L645,235 L645,262 L300,262 L43,270 Z" fill="#5b8a34"/>
  <path d="M43,225 H645 V240 L330,246 L160,240 L43,236 Z" fill="#1e3218"/>
  <rect x="43" y="231" width="118" height="15" fill="#a89a8c"/>
  <!-- pool edge -->
  <path d="M43,300 H560 L645,318 V360 L545,318 H43 Z" fill="#b9ab9e"/>
  <path d="M43,318 H545 L645,362 V640 H43 Z" fill="url(#water)"/>
  <path d="M43,318 H545 L560,326 V346 H43 Z" fill="#3f6375"/>
  <rect x="43" y="346" width="602" height="294" filter="url(#ripple)" opacity="0.55"/>
  <path d="M545,318 L645,362 V395 L548,346 Z" fill="#8db6c8" opacity="0.8"/>
  <!-- deck -->
  <rect x="43" y="630" width="602" height="323" fill="url(#deck)"/>
  <path d="M43,752 L200,752 L225,920 L230,953 H43 Z" fill="#a3745d" opacity="0.4"/>
  <path d="M43,630 H200 L192,700 L196,752 H43 Z" fill="#c6a28f" opacity="0.7"/>
  <path d="M230,922 L645,840 V953 H235 Z" fill="#a4715a" opacity="0.55"/>
  <!-- board -->
  <path d="M183,693 L420,650 L645,690 V838 L228,922 L222,905 Z" fill="#d3cabd"/>
  <path d="M222,903 L645,800 V838 L228,922 Z" fill="#e6e0d6"/>
  <path d="M230,922 L645,838 V900 L500,880 L232,953 Z" fill="#7e5745" opacity="0.55"/>
  <!-- sunglasses -->
  <path d="M185,672 C195,640 235,630 262,640 L275,655 L340,652 C355,655 362,668 355,690 L330,705 C305,705 290,690 285,672 L262,672 C255,695 230,702 205,698 C190,692 182,684 185,672 Z" fill="#241c2c"/>
  <path d="M300,660 L335,658 L340,690 L318,696 Z" fill="#7c7596" opacity="0.7"/>
  <!-- glass -->
  <path d="M340,520 H356 L352,640 C360,650 372,655 380,660 H312 C322,655 336,650 344,640 Z" fill="#2f3a2c"/>
  <path d="M285,490 C285,478 411,478 411,490 C411,520 385,540 348,540 C311,540 285,520 285,490 Z" fill="#2b2d17"/>
  <ellipse cx="348" cy="490" rx="60" ry="11" fill="#565428"/>
  <ellipse cx="348" cy="490" rx="63" ry="13" fill="none" stroke="#8a8f7a" stroke-width="3" opacity="0.7"/>
  <!-- bowl -->
  <path d="M365,655 C380,760 470,800 560,798 C610,796 640,780 645,772 V655 Z" fill="#e4ddd2"/>
  <path d="M362,652 C372,700 420,745 520,755 C580,760 630,752 645,745 V762 C600,775 540,775 500,768 C420,752 372,712 362,652 Z" fill="#364276"/>
  <path d="M395,720 C430,790 540,800 645,780 V838 L560,850 C470,850 400,800 385,740 Z" fill="#6b5447" opacity="0.35"/>
  <!-- fruit -->
  <circle cx="612" cy="607" r="42" fill="#f0a078"/>
  <circle cx="520" cy="632" r="56" fill="#f2a93a"/>
  <ellipse cx="417" cy="638" rx="52" ry="32" fill="#ea8a52"/>
  <circle cx="588" cy="697" r="62" fill="#f3a23a"/>
  <ellipse cx="468" cy="693" rx="57" ry="50" fill="#df6f55"/>
  <ellipse cx="455" cy="676" rx="30" ry="20" fill="#f0a06a" opacity="0.8"/>
  <ellipse cx="520" cy="610" rx="34" ry="18" fill="#f8c45c" opacity="0.8"/>
  <!-- half peach -->
  <ellipse cx="296" cy="792" rx="55" ry="18" fill="#7a5444" opacity="0.5"/>
  <ellipse cx="282" cy="738" rx="56" ry="50" fill="#f5c272"/>
  <ellipse cx="285" cy="730" rx="26" ry="22" fill="#d2553a"/>
  <path d="M228,745 C235,780 270,792 300,786 C325,780 338,760 338,745 C330,770 300,780 275,778 C255,776 238,765 228,745 Z" fill="#e8704a"/>
  <!-- hand -->
  <path d="M645,350 C610,370 590,378 560,378 C520,372 460,375 430,390 C410,400 395,412 392,425 L402,430 C420,415 440,408 462,405 C440,425 425,450 420,470 L432,476 C445,455 465,435 488,422 C475,440 462,458 458,470 L470,474 C490,450 520,430 560,425 C600,420 625,412 645,405 Z" fill="#e3aa8c"/>
 </g>
 <rect x="550" y="777.7" width="139.2" height="27.4" fill="#ffffff"/>
 <rect x="550" y="1015.6" width="139.2" height="25" fill="#ffffff"/>
 <!-- tiktok icon -->
 <g transform="translate(560.6,786.6)">
  <path d="M5.2,0 H7 C7.1,1.5 8,2.6 9.6,2.8 V4.7 C8.6,4.7 7.8,4.4 7,3.9 V7 C7,9 5.4,10.3 3.6,10.3 C1.7,10.3 0.2,8.9 0.2,7 C0.2,5 1.9,3.6 4,3.9 V5.8 C3,5.5 2.1,6.1 2.1,7 C2.1,7.9 2.8,8.5 3.6,8.5 C4.5,8.5 5.2,7.9 5.2,6.9 Z" fill="#25f4ee" transform="translate(-0.5,-0.4)"/>
  <path d="M5.2,0 H7 C7.1,1.5 8,2.6 9.6,2.8 V4.7 C8.6,4.7 7.8,4.4 7,3.9 V7 C7,9 5.4,10.3 3.6,10.3 C1.7,10.3 0.2,8.9 0.2,7 C0.2,5 1.9,3.6 4,3.9 V5.8 C3,5.5 2.1,6.1 2.1,7 C2.1,7.9 2.8,8.5 3.6,8.5 C4.5,8.5 5.2,7.9 5.2,6.9 Z" fill="#fe2c55" transform="translate(0.5,0.4)"/>
  <path d="M5.2,0 H7 C7.1,1.5 8,2.6 9.6,2.8 V4.7 C8.6,4.7 7.8,4.4 7,3.9 V7 C7,9 5.4,10.3 3.6,10.3 C1.7,10.3 0.2,8.9 0.2,7 C0.2,5 1.9,3.6 4,3.9 V5.8 C3,5.5 2.1,6.1 2.1,7 C2.1,7.9 2.8,8.5 3.6,8.5 C4.5,8.5 5.2,7.9 5.2,6.9 Z" fill="#0c0c10"/>
 </g>
 <text x="576.6" y="794.8" font-size="10.4" fill="#4a4e58" textLength="38" lengthAdjust="spacingAndGlyphs">6:30 PM</text>
 <rect x="559.3" y="1023.7" width="115.2" height="5.8" rx="2.9" fill="#e1e4ea"/>
</g>
<!-- INSTAGRAM CARD (coffee) -->
<defs>
 <clipPath id="igc2"><rect x="1240" y="844.2" width="145.3" height="161.6" rx="10"/></clipPath>
 <g id="bn"><ellipse rx="3.7" ry="2.6"/><path d="M-3,0.1Q0,-0.8 3,0.1" stroke="#2a150a" stroke-width="0.55" fill="none"/><ellipse cx="-0.4" cy="-1.3" rx="1.9" ry="0.55" fill="#c08848" opacity="0.5"/></g>
<pattern id="beanpat" x="1240" y="872" width="48" height="36" patternUnits="userSpaceOnUse">
<rect width="48" height="36" fill="#150a04"/>
<use href="#bn" fill="#2a1508" transform="translate(29.9,26.7)rotate(143)"/>
<use href="#bn" fill="#3e220f" transform="translate(1.4,16.8)rotate(169)"/>
<use href="#bn" fill="#3e220f" transform="translate(49.4,16.8)rotate(169)"/>
<use href="#bn" fill="#30190b" transform="translate(43.2,4.1)rotate(84)"/>
<use href="#bn" fill="#30190b" transform="translate(18.3,3.7)rotate(44)"/>
<use href="#bn" fill="#30190b" transform="translate(18.3,39.7)rotate(44)"/>
<use href="#bn" fill="#4c2a13" transform="translate(41.6,14.0)rotate(137)"/>
<use href="#bn" fill="#3e220f" transform="translate(6.7,22.2)rotate(22)"/>
<use href="#bn" fill="#5a3318" transform="translate(37.1,-1.4)rotate(29)"/>
<use href="#bn" fill="#5a3318" transform="translate(37.1,34.6)rotate(29)"/>
<use href="#bn" fill="#30190b" transform="translate(13.9,-1.4)rotate(97)"/>
<use href="#bn" fill="#30190b" transform="translate(13.9,34.6)rotate(97)"/>
<use href="#bn" fill="#452612" transform="translate(19.9,-2.3)rotate(47)"/>
<use href="#bn" fill="#452612" transform="translate(19.9,33.7)rotate(47)"/>
<use href="#bn" fill="#452612" transform="translate(14.5,21.7)rotate(0)"/>
<use href="#bn" fill="#693d1d" transform="translate(8.9,17.0)rotate(31)"/>
<use href="#bn" fill="#3e220f" transform="translate(0.9,28.4)rotate(65)"/>
<use href="#bn" fill="#3e220f" transform="translate(48.9,28.4)rotate(65)"/>
<use href="#bn" fill="#30190b" transform="translate(21.7,25.5)rotate(112)"/>
<use href="#bn" fill="#8f5a2a" transform="translate(5.7,8.9)rotate(147)"/>
<use href="#bn" fill="#8f5a2a" transform="translate(16.5,12.8)rotate(94)"/>
<use href="#bn" fill="#452612" transform="translate(1.8,-2.0)rotate(16)"/>
<use href="#bn" fill="#452612" transform="translate(1.8,34.0)rotate(16)"/>
<use href="#bn" fill="#452612" transform="translate(49.8,-2.0)rotate(16)"/>
<use href="#bn" fill="#452612" transform="translate(49.8,34.0)rotate(16)"/>
<use href="#bn" fill="#693d1d" transform="translate(24.6,13.1)rotate(26)"/>
<use href="#bn" fill="#452612" transform="translate(-3.6,19.6)rotate(56)"/>
<use href="#bn" fill="#452612" transform="translate(44.4,19.6)rotate(56)"/>
<use href="#bn" fill="#693d1d" transform="translate(14.7,28.8)rotate(112)"/>
<use href="#bn" fill="#7a4a24" transform="translate(35.0,17.2)rotate(52)"/>
<use href="#bn" fill="#2a1508" transform="translate(23.6,18.5)rotate(98)"/>
<use href="#bn" fill="#693d1d" transform="translate(37.2,25.0)rotate(119)"/>
<use href="#bn" fill="#8f5a2a" transform="translate(8.0,30.1)rotate(168)"/>
<use href="#bn" fill="#7a4a24" transform="translate(29.6,-2.3)rotate(92)"/>
<use href="#bn" fill="#7a4a24" transform="translate(29.6,33.7)rotate(92)"/>
<use href="#bn" fill="#4c2a13" transform="translate(22.9,7.2)rotate(23)"/>
<use href="#bn" fill="#693d1d" transform="translate(11.8,9.6)rotate(27)"/>
<use href="#bn" fill="#3e220f" transform="translate(44.0,32.0)rotate(98)"/>
<use href="#bn" fill="#4c2a13" transform="translate(-0.3,7.7)rotate(32)"/>
<use href="#bn" fill="#4c2a13" transform="translate(47.7,7.7)rotate(32)"/>
<use href="#bn" fill="#4c2a13" transform="translate(29.7,15.4)rotate(83)"/>
<use href="#bn" fill="#3e220f" transform="translate(36.1,11.4)rotate(10)"/>
<use href="#bn" fill="#30190b" transform="translate(34.5,5.9)rotate(43)"/>
<use href="#bn" fill="#4c2a13" transform="translate(10.8,4.2)rotate(56)"/>
<use href="#bn" fill="#8f5a2a" transform="translate(43.1,26.2)rotate(159)"/>
<use href="#bn" fill="#7a4a24" transform="translate(28.5,3.4)rotate(131)"/>
<use href="#bn" fill="#7a4a24" transform="translate(28.5,39.4)rotate(131)"/>
<use href="#bn" fill="#693d1d" transform="translate(29.0,9.4)rotate(104)"/>
<use href="#bn" fill="#2a1508" transform="translate(29.2,21.1)rotate(80)"/>
<use href="#bn" fill="#693d1d" transform="translate(24.7,30.4)rotate(22)"/>
<use href="#bn" fill="#452612" transform="translate(5.4,2.2)rotate(177)"/>
<use href="#bn" fill="#452612" transform="translate(5.4,38.2)rotate(177)"/>
<use href="#bn" fill="#4c2a13" transform="translate(1.2,22.8)rotate(17)"/>
<use href="#bn" fill="#4c2a13" transform="translate(49.2,22.8)rotate(17)"/>
</pattern>
 <radialGradient id="latte" cx="0.5" cy="0.5" r="0.5"><stop offset="0" stop-color="#d2a064"/><stop offset="0.7" stop-color="#cb9656"/><stop offset="0.93" stop-color="#bd8445"/><stop offset="1" stop-color="#ad7434"/></radialGradient>
 <linearGradient id="iggrad" x1="0" y1="1" x2="1" y2="0"><stop offset="0" stop-color="#fdb130"/><stop offset="0.3" stop-color="#f5542f"/><stop offset="0.6" stop-color="#d62d7c"/><stop offset="1" stop-color="#6a3fd0"/></linearGradient>
</defs>
<g clip-path="url(#igc2)">
 <rect x="1240" y="844.2" width="145.3" height="161.6" fill="#ffffff"/>
 <rect x="1240" y="872" width="145.3" height="106.7" fill="url(#beanpat)"/>
 <circle cx="1313.3" cy="922.5" r="31.7" fill="#efe9e2"/>
 <circle cx="1313.3" cy="922.5" r="29.6" fill="url(#latte)"/>
 <!-- latte art -->
 <g fill="#f7efe3">
  <path d="M1313.3,946 C1300,942 1292,932 1294,922 C1296,914 1303,912 1307,916 C1309,920 1311,926 1313.3,931 C1315.6,926 1317.6,920 1319.6,916 C1323.6,912 1330.6,914 1332.6,922 C1334.6,932 1326.6,942 1313.3,946 Z" opacity="0.92"/>
  <path d="M1313.3,927 C1309,921 1307,915 1308.5,911.5 C1310,909 1312.5,909.5 1313.3,911.5 C1314.1,909.5 1316.6,909 1318.1,911.5 C1319.6,915 1317.6,921 1313.3,927 Z"/>
 </g>
 <g stroke="#c48a48" stroke-width="0.9" fill="none" opacity="0.8"><path d="M1298,920 C1302,926 1307,932 1312,938 M1328.6,920 C1324.6,926 1319.6,932 1314.6,938 M1296,927 C1301,932 1306,937 1311,942 M1330.6,927 C1325.6,932 1320.6,937 1315.6,942"/></g>
 <!-- instagram icon -->
 <rect x="1248.8" y="850.8" width="13.2" height="13.4" rx="3.4" fill="url(#iggrad)"/>
 <rect x="1251.3" y="853.4" width="8.2" height="8.2" rx="2.4" fill="none" stroke="#ffffff" stroke-width="1.1"/>
 <circle cx="1255.4" cy="857.5" r="2" fill="none" stroke="#ffffff" stroke-width="1.1"/>
 <circle cx="1258" cy="854.9" r="0.55" fill="#ffffff"/>
 <text x="1267.4" y="861.2" font-size="11.6" fill="#3f434c" textLength="44" lengthAdjust="spacingAndGlyphs">12:50 PM</text>
 <rect x="1249.2" y="989.5" width="82" height="5.6" rx="2.8" fill="#e1e4ea"/>
</g>
<!-- OPTIONS CARD -->
<g>
 <rect x="1321.8" y="491" width="116.4" height="122.8" rx="6" fill="#ffffff"/>
 <g fill="#ffffff" stroke="#d6d6d8" stroke-width="1">
  <circle cx="1342.9" cy="511.5" r="6.4"/><circle cx="1342.9" cy="538.7" r="6.4"/><circle cx="1342.9" cy="565.6" r="6.4"/><circle cx="1342.9" cy="592.8" r="6.4"/>
 </g>
 <g font-size="9.8" fill="#363c55" stroke="#363c55" stroke-width="0.3">
  <text x="1356" y="514.9" textLength="45.5" lengthAdjust="spacingAndGlyphs">Save Draft</text>
  <text x="1356" y="542" textLength="60" lengthAdjust="spacingAndGlyphs">Add to Queue</text>
  <text x="1356" y="569" textLength="40.6" lengthAdjust="spacingAndGlyphs">Schedule</text>
  <text x="1356" y="595.8" textLength="52.3" lengthAdjust="spacingAndGlyphs">Publish now</text>
 </g>
</g>
<!-- IG POST CARD (flowers) -->
<defs>
 <linearGradient id="igbg" x1="0" y1="0" x2="1" y2="0"><stop offset="0" stop-color="#ffffff"/><stop offset="0.35" stop-color="#fbfcfe"/><stop offset="1" stop-color="#f1f5fb"/></linearGradient>
 <radialGradient id="igcorner" cx="1444" cy="324" r="62" gradientUnits="userSpaceOnUse"><stop offset="0" stop-color="#b9c9ea" stop-opacity="0.95"/><stop offset="0.55" stop-color="#cfdaf0" stop-opacity="0.6"/><stop offset="1" stop-color="#e8eef8" stop-opacity="0"/></radialGradient>
 <linearGradient id="sky" x1="0" y1="0" x2="0" y2="1"><stop offset="0" stop-color="#12b0d6"/><stop offset="0.22" stop-color="#2db8da"/><stop offset="0.45" stop-color="#7fcbe3"/><stop offset="0.7" stop-color="#b5dcea"/><stop offset="1" stop-color="#a9d9e8"/></linearGradient>
 <clipPath id="igclip"><rect x="35" y="25" width="1013" height="1015" rx="22"/></clipPath>
 <clipPath id="igcard"><rect x="1221.9" y="55.6" width="222.1" height="268.2" rx="6"/></clipPath>
 <filter id="b12" x="-20%" y="-20%" width="140%" height="140%"><feGaussianBlur stdDeviation="12"/></filter>
 <filter id="b25" x="-30%" y="-30%" width="160%" height="160%"><feGaussianBlur stdDeviation="25"/></filter>
 <filter id="rag" x="-10%" y="-10%" width="120%" height="120%"><feTurbulence type="fractalNoise" baseFrequency="0.035" numOctaves="2" seed="3" result="n"/><feDisplacementMap in="SourceGraphic" in2="n" scale="38" xChannelSelector="R" yChannelSelector="G"/></filter>
 <filter id="rag2" x="-10%" y="-10%" width="120%" height="120%"><feTurbulence type="fractalNoise" baseFrequency="0.06" numOctaves="2" seed="8" result="n"/><feDisplacementMap in="SourceGraphic" in2="n" scale="22" xChannelSelector="R" yChannelSelector="G"/></filter>
 <filter id="b4" x="-20%" y="-20%" width="140%" height="140%"><feGaussianBlur stdDeviation="3"/></filter>
</defs>
<g>
 <rect x="1221.9" y="55.6" width="222.1" height="268.2" rx="6" fill="url(#igbg)"/>
 <g clip-path="url(#igcard)"><rect x="1370" y="260" width="80" height="70" fill="url(#igcorner)"/></g>
 <circle cx="1240.6" cy="75" r="8.7" fill="#1f5561"/>
 <circle cx="1240.8" cy="75.2" r="2.6" fill="none" stroke="#7fa5a0" stroke-width="0.7" opacity="0.8"/>
 <rect x="1256" y="72.2" width="63.4" height="4.9" rx="2.4" fill="#dfe2e8"/>
 <g fill="#5a5d66"><rect x="1418" y="74.3" width="1.9" height="1.9"/><rect x="1421.1" y="74.3" width="1.9" height="1.9"/><rect x="1424.2" y="74.3" width="1.9" height="1.9"/></g>
 <!-- photo -->
 <g transform="translate(1225,85) scale(0.19907)" clip-path="url(#igclip)">
  <rect x="35" y="25" width="1013" height="1015" fill="url(#sky)"/>
  <!-- clouds -->
  <g filter="url(#b25)" fill="#d7ebf3">
   <ellipse cx="180" cy="150" rx="170" ry="38" transform="rotate(18 180 150)" opacity="0.55"/>
   <ellipse cx="150" cy="620" rx="260" ry="220" opacity="0.75"/>
   <ellipse cx="260" cy="950" rx="300" ry="110" opacity="0.8"/>
   <ellipse cx="900" cy="560" rx="230" ry="130" transform="rotate(-20 900 560)" opacity="0.85"/>
   <ellipse cx="860" cy="880" rx="210" ry="110" opacity="0.9"/>
   <ellipse cx="900" cy="320" rx="120" ry="40" opacity="0.3"/>
  </g>
  <g filter="url(#b12)" fill="#18b6d8">
   <ellipse cx="1010" cy="760" rx="70" ry="55" opacity="0.9"/>
   <ellipse cx="1000" cy="930" rx="90" ry="30" transform="rotate(-12 1000 930)" opacity="0.85"/>
   <ellipse cx="950" cy="1010" rx="120" ry="22" transform="rotate(-8 950 1010)" opacity="0.7"/>
   <ellipse cx="120" cy="915" rx="90" ry="18" opacity="0.45"/>
  </g>
  <!-- bouquet greens -->
  <g filter="url(#rag)">
  <path fill="#2d6640" d="M470,770 C420,720 380,640 340,560 C300,500 270,470 262,440 L300,420 C330,400 360,330 400,270 C430,220 500,190 540,200 C600,210 640,260 700,290 C760,310 800,340 820,400 C840,460 800,520 770,560 C790,600 780,650 760,690 C740,730 700,760 690,775 Z"/>
  <path fill="#2d6640" d="M300,500 L270,520 L330,570 Z M285,445 L255,470 L300,500 Z M380,680 L365,720 L420,740 L440,700 Z M700,640 L780,680 L740,720 L690,700 Z M760,540 L790,545 L740,600 Z M420,230 L400,200 L450,250 Z M520,200 L535,185 L545,215 Z M455,205 L470,235 L440,240 Z"/>
  <path fill="#3f8150" d="M480,600 C500,520 540,470 600,430 C640,460 650,540 620,620 C600,680 560,720 520,740 C490,700 470,650 480,600 Z"/>
  <path fill="#4a8d5a" d="M540,430 C560,400 590,380 620,385 C625,420 610,460 580,480 Z M630,500 C660,480 700,480 730,500 C710,530 670,545 640,535 Z M430,520 C450,500 480,500 500,520 C490,550 460,560 440,550 Z"/>
  <path fill="#1d472e" d="M520,300 C560,340 570,420 540,480 C500,440 470,360 480,300 Z M640,470 C690,480 740,520 760,570 C720,600 670,590 640,560 Z M330,470 C370,520 420,600 450,680 C400,660 350,590 320,520 Z M600,290 C640,300 660,340 650,390 C620,380 600,340 600,290 Z M660,600 C700,610 730,640 735,680 C700,680 670,650 660,600 Z M420,330 C450,350 470,400 460,450 C430,430 415,380 420,330 Z"/>
  <path fill="#6aa474" d="M590,490 C610,520 630,560 610,610 C580,590 570,540 590,490 Z M460,690 C500,680 530,700 540,730 C500,740 470,730 460,690 Z M380,690 C410,680 440,700 450,740 C410,750 385,730 380,690 Z M700,650 C730,660 760,670 775,690 C740,700 710,690 700,650 Z M500,600 C520,610 530,640 520,670 C500,660 492,630 500,600 Z M350,440 C370,450 385,470 385,495 C365,490 350,470 350,440 Z M470,250 C490,262 500,285 495,310 C475,300 466,275 470,250 Z"/>
  <g stroke="#2d6640" stroke-width="9" fill="none"><path d="M290,500 L330,560 M320,410 L360,470 M400,250 L430,330 M460,205 L490,290 M760,560 L700,620"/></g>
  <g stroke="#7d4a36" stroke-width="5" fill="none" opacity="0.7"><path d="M450,360 C465,430 480,520 495,590 M400,470 C420,540 440,610 450,660"/></g>
  </g>
  <!-- yellow flowers -->
  <g filter="url(#rag2)">
  <g fill="#f3b52b">
   <ellipse cx="745" cy="315" rx="75" ry="60"/><ellipse cx="785" cy="430" rx="52" ry="58"/><ellipse cx="690" cy="360" rx="45" ry="55"/><ellipse cx="812" cy="507" rx="24" ry="26"/><ellipse cx="665" cy="435" rx="25" ry="18"/>
  </g>
  <g fill="#fbd45a" opacity="0.8"><ellipse cx="735" cy="292" rx="40" ry="22"/><ellipse cx="690" cy="330" rx="22" ry="20"/><ellipse cx="795" cy="405" rx="25" ry="20"/></g>
  <g fill="#d9911a" opacity="0.8"><ellipse cx="770" cy="470" rx="30" ry="16"/><ellipse cx="700" cy="395" rx="25" ry="14"/></g>
  <g fill="#3b3a20"><circle cx="750" cy="322" r="13"/><circle cx="700" cy="358" r="11"/><circle cx="770" cy="432" r="12"/></g>
  <!-- white / cream flowers -->
  <g fill="#e9eff1"><ellipse cx="550" cy="238" rx="52" ry="30"/><ellipse cx="400" cy="385" rx="42" ry="36"/><ellipse cx="585" cy="320" rx="28" ry="20"/><ellipse cx="620" cy="270" rx="30" ry="20"/><ellipse cx="500" cy="430" rx="20" ry="16"/><ellipse cx="560" cy="355" rx="16" ry="12"/><ellipse cx="440" cy="430" rx="14" ry="12"/><ellipse cx="640" cy="365" rx="12" ry="9"/></g>
  <ellipse cx="256" cy="420" rx="50" ry="46" fill="#f2d28d"/>
  <ellipse cx="245" cy="408" rx="28" ry="22" fill="#f8e2ab"/>
  </g>
  <!-- hands -->
  <path fill="#7d9a4a" d="M500,930 L620,930 L640,1040 L495,1040 Z"/>
  <path fill="#dd9f80" d="M395,1040 C400,980 400,900 405,850 C410,800 450,770 500,750 C540,735 560,725 600,735 C650,750 700,800 740,850 C755,900 745,980 750,1040 L640,1040 C630,990 600,950 575,925 C550,940 530,1000 520,1040 Z"/>
  <path fill="none" stroke="#b56f55" stroke-width="9" stroke-linecap="round" d="M520,790 C580,800 630,810 680,840 M525,835 C580,840 630,850 680,875 M530,875 C580,885 620,895 660,915 M410,870 C450,860 490,850 525,830"/>
  <path fill="#f0bda2" d="M540,745 C580,735 620,750 650,780 C620,780 580,770 545,765 Z"/>
 </g>
 <!-- actions -->
 <path fill="#e9425b" d="M1238.1,311.9 C1235,309.6 1231.6,306.8 1231.6,303.6 C1231.6,301.6 1233.1,300.1 1234.9,300.1 C1236.3,300.1 1237.5,300.9 1238.1,302.1 C1238.7,300.9 1239.9,300.1 1241.3,300.1 C1243.1,300.1 1244.6,301.6 1244.6,303.6 C1244.6,306.8 1241.2,309.6 1238.1,311.9 Z"/>
 <path fill="#c6c9d1" d="M1259.4,300.2 a5.7,5.7 0 1 1 -0.01,0 Z M1260.5,310.5 L1265.3,311.9 L1264.4,306.5 Z"/>
 <path fill="#c6c9d1" d="M1274,301.2 L1288.2,301.2 L1281.1,312.3 Z"/>
 <circle cx="1329.4" cy="305.6" r="1.7" fill="#2f80ed"/>
 <g fill="#c9ccd3"><circle cx="1335" cy="305.6" r="1.5"/><circle cx="1340.4" cy="305.6" r="1.5"/><circle cx="1345" cy="305.6" r="1"/><circle cx="1348.7" cy="305.6" r="0.5"/></g>
 <path fill="#b7bfcd" d="M1421.9,299.1 H1433.1 V311.6 L1427.5,306.6 L1421.9,311.6 Z"/>
</g>

</svg>
</body></html>
